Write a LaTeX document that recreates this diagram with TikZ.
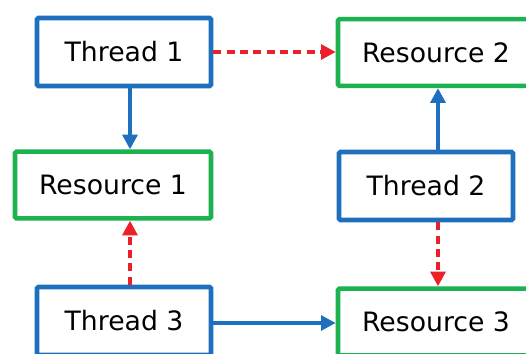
\documentclass[tikz,border=0pt]{standalone}
\usepackage{fontspec}
\setmainfont{DejaVu Sans}
\usetikzlibrary{arrows.meta}
\definecolor{tblue}{RGB}{30,112,190}
\definecolor{rgreen}{RGB}{28,178,80}
\definecolor{ared}{RGB}{236,32,40}
\begin{document}
\begin{tikzpicture}[x=0.75pt,y=-0.75pt,
  box/.style={draw,line width=3.4pt,rounded corners=1pt,fill=white,inner sep=0pt,
    font=\fontsize{20}{24}\selectfont,text=black},
  thr/.style={box,draw=tblue,minimum width=130.5pt,minimum height=51pt},
  res/.style={box,draw=rgreen,minimum width=147pt,minimum height=50pt},
  hold/.style={draw=tblue,line width=2.8pt,-{Triangle[length=11pt,width=11pt]}},
  want/.style={draw=ared,line width=2.8pt,dash pattern=on 6pt off 4pt,-{Triangle[length=11pt,width=11pt]}}]
\useasboundingbox (0,0) rectangle (526,354);
\node[thr] (t1) at (124,52) {Thread 1};
\node[res] (r1) at (113,185) {Resource 1};
\node[res] (r2) at (436,52.5) {Resource 2};
\node[thr] (t2) at (426,186) {Thread 2};
\node[thr] (t3) at (124,321) {Thread 3};
\node[res] (r3) at (436,322) {Resource 3};
\coordinate (xa) at (130,0);
\coordinate (xb) at (438,0);
\coordinate (yc) at (0,323);
\draw[hold] (t1.south -| xa) -- (r1.north -| xa);
\draw[want] (t1.east) -- (r2.west |- t1.east);
\draw[hold] (t2.north -| xb) -- (r2.south -| xb);
\draw[want] (t2.south -| xb) -- (r3.north -| xb);
\draw[want] (t3.north -| xa) -- (r1.south -| xa);
\draw[hold] (t3.east |- yc) -- (r3.west |- yc);
\end{tikzpicture}
\end{document}
